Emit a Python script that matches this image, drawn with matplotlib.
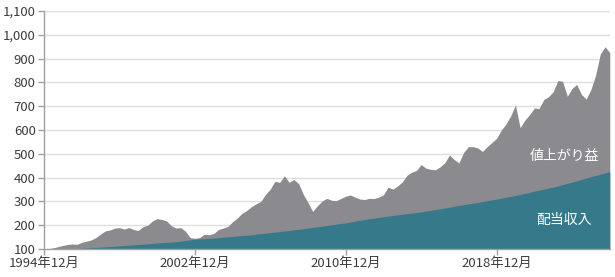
"""
    配当収入と値上がり益の積み上げ面グラフ
1994年12月=100
"""

import pandas as pd
import numpy as np
import matplotlib
matplotlib.use("Agg")
import matplotlib.pyplot as plt

plt.rcParams['font.family'] = ['Noto Sans CJK JP', 'DejaVu Sans']

# total return index (quarterly, 1994-12 .. 2024-12)
total_dates = pd.date_range("1994-12-01", "2024-12-01", freq="3MS")
total_values = [
    100, 102, 105, 110, 115, 119, 121, 120, 128, 133,
    138, 148, 163, 176, 180, 188, 190, 184, 190, 182,
    178, 194, 200, 218, 228, 224, 218, 198, 188, 190,
    175, 148, 145, 148, 162, 160, 165, 182, 188, 195,
    215, 230, 250, 262, 278, 290, 300, 330, 352, 385,
    380, 408, 380, 392, 375, 330, 295, 258, 282, 302,
    313, 305, 303, 313, 322, 327, 318, 310, 308, 313,
    312, 318, 328, 360, 352, 365, 382, 410, 423, 430,
    455, 440, 435, 433, 445, 462, 495, 476, 462, 505,
    530, 530, 525, 510, 530, 548, 565, 600, 625, 660,
    705, 610, 642, 665, 693, 690, 728, 740, 761, 808,
    805, 742, 775, 792, 750, 730, 770, 830, 920, 950,
    925,
]

# dividend part (each December)
div_dates = pd.date_range("1994-12-01", "2024-12-01", freq="12MS")
div_values = [
    100, 100.5, 103, 108, 113, 119, 125, 131, 141, 146,
    153, 160, 169, 178, 188, 199, 210, 224, 236, 246,
    256, 269, 283, 296, 310, 325, 343, 360, 381, 404,
    425,
]

y_ticks = [100, 200, 300, 400, 500, 600, 700, 800, 900, 1000, 1100]
x_tick_dates = pd.to_datetime(["1994-12-01", "2002-12-01", "2010-12-01", "2018-12-01"])
x_tick_labels = ["1994年12月", "2002年12月", "2010年12月", "2018年12月"]

grey = "#8b8b8f"
teal = "#35798b"
text_col = "#3c3c3c"

fig = plt.figure(figsize=(6.15, 2.77), dpi=100)
ax = fig.add_axes([0.0715, 0.101, 0.92, 0.859])

ax.fill_between(total_dates, 100, total_values, color=grey, lw=0, zorder=2)
ax.fill_between(div_dates, 100, div_values, color=teal, lw=0, zorder=3)

ax.set_xlim(total_dates[0], total_dates[-1])
ax.set_ylim(100, 1100)
ax.set_yticks(y_ticks)
ax.set_yticklabels([f"{v:,}" for v in y_ticks])
ax.set_xticks(x_tick_dates)
ax.set_xticklabels(x_tick_labels)

for v in y_ticks[1:]:
    ax.axhline(v, color="#dedede", lw=1, zorder=1)

for s in ["top", "right"]:
    ax.spines[s].set_visible(False)
for s in ["left", "bottom"]:
    ax.spines[s].set_color("#a0a0a0")
    ax.spines[s].set_linewidth(1)
    ax.spines[s].set_zorder(4)

ax.tick_params(axis="both", colors="#a0a0a0", labelcolor=text_col,
               labelsize=9.5, length=4, width=1)
ax.tick_params(axis="y", pad=2)
ax.tick_params(axis="x", pad=2)

# labels inside the areas
ax.text(pd.Timestamp("2022-07-01"), 490, "値上がり益", color="white",
        fontsize=10, ha="center", va="center", zorder=5)
ax.text(pd.Timestamp("2022-07-01"), 222, "配当収入", color="white",
        fontsize=10, ha="center", va="center", zorder=5)

fig.savefig("out.png", dpi=100)
